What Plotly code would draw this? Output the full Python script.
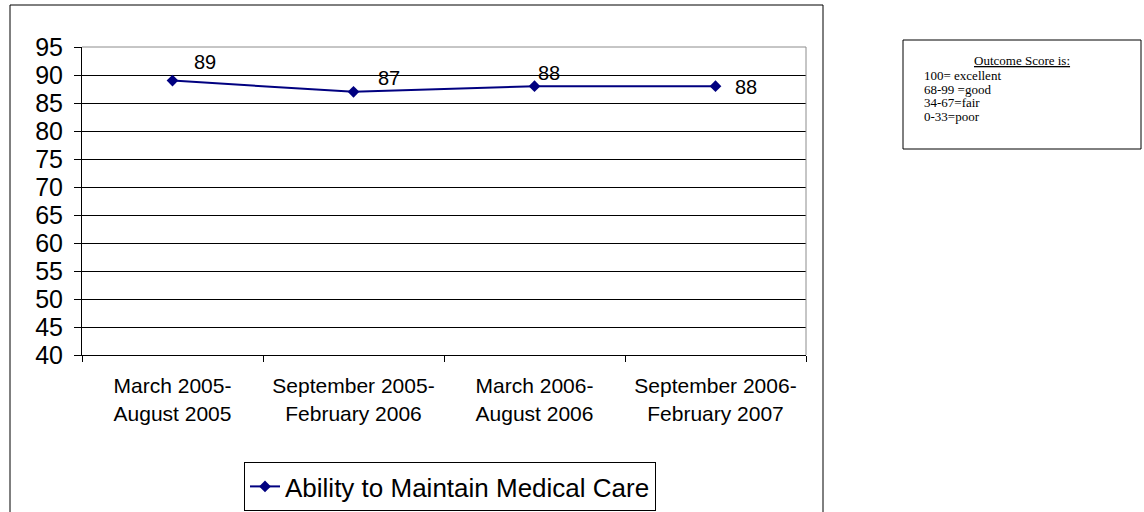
import plotly.graph_objects as go

# Reporting periods (two-line category labels) and outcome scores
periods = [
    "March 2005-<br>August 2005",
    "September 2005-<br>February 2006",
    "March 2006-<br>August 2006",
    "September 2006-<br>February 2007",
]
scores = [89, 87, 88, 88]
series_name = "Ability to Maintain Medical Care"

# Score legend text box
legend_title = "Outcome Score is:"
legend_lines = ["100= excellent", "68-99 =good", "34-67=fair", "0-33=poor"]

# Pixel offsets for each value label relative to its point
label_shift_x = [32, 35, 14, 30]
label_shift_y = [19, 14, 13, -1]

y_ticks = list(range(40, 100, 5))

NAVY = "#000080"
SANS = "Liberation Sans, Arial, sans-serif"
SERIF = "Liberation Serif, Times New Roman, serif"

# plot area geometry (pixels)
W, H = 1144, 512
L, R, T, B = 82, 806, 47, 355
PW, PH = R - L, B - T


def px(x):
    return (x - L) / PW


def py(y):
    return (B - y) / PH


fig = go.Figure()
fig.add_trace(go.Scatter(
    x=periods, y=scores, mode="lines+markers", name=series_name,
    line=dict(color=NAVY, width=2),
    marker=dict(symbol="diamond", size=9, color=NAVY),
))

annotations = []
for p, s, dx, dy in zip(periods, scores, label_shift_x, label_shift_y):
    annotations.append(dict(
        x=p, y=s, xref="x", yref="y", text=str(s), showarrow=False,
        xshift=dx, yshift=dy, font=dict(family=SANS, size=20, color="black"),
    ))

# score key box contents
annotations.append(dict(
    x=px(1022), y=py(61), xref="paper", yref="paper", text=f"<u>{legend_title}</u>",
    showarrow=False, xanchor="center", yanchor="middle",
    font=dict(family=SERIF, size=13, color="black"),
))
for i, line in enumerate(legend_lines):
    annotations.append(dict(
        x=px(922), y=py(76 + 13.4 * i), xref="paper", yref="paper", text=line,
        showarrow=False, xanchor="left", yanchor="middle",
        font=dict(family=SERIF, size=13, color="black"),
    ))

shapes = [
    # outer chart frame
    dict(type="rect", xref="paper", yref="paper", x0=px(10), x1=px(823),
         y0=py(540), y1=py(5), line=dict(color="black", width=1), layer="below"),
    # score key frame
    dict(type="rect", xref="paper", yref="paper", x0=px(903), x1=px(1141),
         y0=py(149), y1=py(40), line=dict(color="black", width=1)),
    # plot area top and right edges
    dict(type="path", xref="paper", yref="paper", path="M0,1 L1,1 L1,0",
         line=dict(color="#8c8c8c", width=1), layer="above"),
]

fig.update_layout(
    width=W, height=H,
    margin=dict(l=L, r=W - R, t=T, b=H - B, autoexpand=False),
    paper_bgcolor="white", plot_bgcolor="white",
    font=dict(family=SANS, color="black"),
    showlegend=True,
    legend=dict(
        orientation="h", x=px(450), xanchor="center", y=py(462), yanchor="top",
        bordercolor="black", borderwidth=1, bgcolor="white",
        font=dict(family=SANS, size=26, color="black"),
        itemwidth=30,
    ),
    annotations=annotations,
    shapes=shapes,
)

fig.update_xaxes(
    type="category", range=[-0.5, 3.5], tickson="boundaries", ticks="outside",
    ticklen=6, tickcolor="black", showline=True, linecolor="black", linewidth=1,
    showgrid=False, tickfont=dict(family=SANS, size=21, color="black"),
    ticklabelstandoff=12, fixedrange=True, automargin=False,
)
fig.update_yaxes(
    range=[40, 95], tickvals=y_ticks, ticks="outside", ticklen=7,
    tickcolor="black", showline=True, linecolor="black", linewidth=1,
    showgrid=True, gridcolor="black", gridwidth=1, zeroline=False,
    tickfont=dict(family=SANS, size=25, color="black"),
    ticklabelstandoff=6, fixedrange=True, automargin=False,
)

fig.write_html("out.html", config={"displayModeBar": False})
